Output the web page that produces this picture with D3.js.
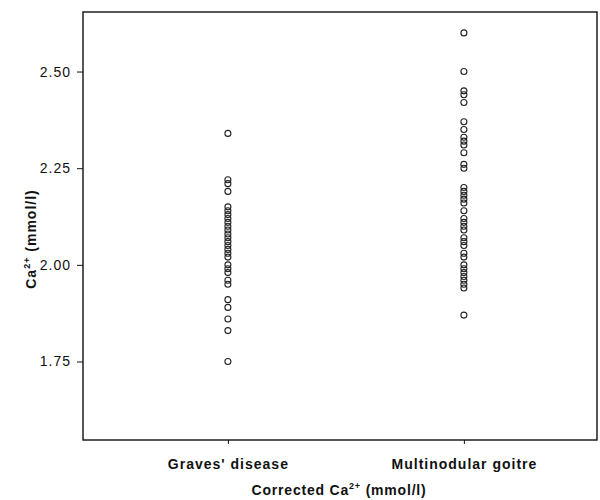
<!DOCTYPE html>
<html>
<head>
    <meta charset="UTF-8">
    <title>Ca2+ by diagnosis</title>
    <style>
        body { margin: 0; background: #fff; }
        svg text { font-family: "Liberation Sans", Arial, sans-serif; fill: #111; }
    </style>
</head>
<body>
    <div id="chart"></div>

    <script src="https://cdn.jsdelivr.net/npm/d3@7/dist/d3.min.js"></script>
    <script>
        const groups = ["Graves' disease", "Multinodular goitre"];
        const gravesValues = [2.34, 2.22, 2.21, 2.19, 2.15, 2.14, 2.13, 2.12, 2.11, 2.10,
            2.09, 2.08, 2.07, 2.06, 2.05, 2.04, 2.03, 2.02, 2.00, 1.99,
            1.98, 1.96, 1.95, 1.91, 1.89, 1.86, 1.83, 1.75];
        const goitreValues = [2.60, 2.50, 2.45, 2.44, 2.42, 2.37, 2.35, 2.33, 2.32, 2.31,
            2.29, 2.26, 2.25, 2.20, 2.19, 2.18, 2.17, 2.16, 2.14, 2.12,
            2.11, 2.10, 2.09, 2.07, 2.06, 2.05, 2.03, 2.02, 2.00, 1.99,
            1.98, 1.97, 1.96, 1.95, 1.94, 1.87];
        const yTicks = [1.75, 2.00, 2.25, 2.50];

        const points = [
            ...gravesValues.map(v => ({ group: 1, value: v })),
            ...goitreValues.map(v => ({ group: 2, value: v }))
        ];

        const margin = { top: 12, right: 3, bottom: 60, left: 83 };
        const W = 600, H = 500;
        const width = W - margin.left - margin.right;
        const height = H - margin.top - margin.bottom;

        const svg = d3.select("#chart").append("svg")
            .attr("width", W)
            .attr("height", H);

        const g = svg.append("g")
            .attr("transform", `translate(${margin.left},${margin.top})`);

        // group positions on a linear scale so the ends have uneven padding like the original
        const x = d3.scaleLinear().domain([0.386, 2.564]).range([0, width]);
        const y = d3.scaleLinear().domain([1.547, 2.654]).range([height, 0]);

        // frame
        g.append("rect")
            .attr("width", width)
            .attr("height", height)
            .attr("fill", "none")
            .attr("stroke", "#111")
            .attr("stroke-width", 1.4);

        // y axis
        const yAxis = g.append("g")
            .call(d3.axisLeft(y).tickValues(yTicks).tickFormat(d3.format(".2f")).tickSize(6).tickPadding(6));
        yAxis.select(".domain").remove();
        yAxis.selectAll("line").attr("stroke", "#111");
        yAxis.selectAll("text")
            .style("font-size", "14px")
            .style("letter-spacing", "1px");

        // x axis
        const xAxis = g.append("g")
            .attr("transform", `translate(0,${height})`)
            .call(d3.axisBottom(x).tickValues([1, 2]).tickFormat(d => groups[d - 1]).tickSize(4).tickPadding(15));
        xAxis.select(".domain").remove();
        xAxis.selectAll("line").attr("stroke", "#111");
        xAxis.selectAll("text")
            .style("font-size", "14px")
            .style("font-weight", "bold")
            .style("letter-spacing", "1px");

        // points
        g.selectAll("circle.pt")
            .data(points)
            .join("circle")
            .attr("class", "pt")
            .attr("cx", d => x(d.group))
            .attr("cy", d => y(d.value))
            .attr("r", 3)
            .attr("fill", "none")
            .attr("stroke", "#222")
            .attr("stroke-width", 1.1);

        // axis titles
        const xt = svg.append("text")
            .attr("x", 339)
            .attr("y", 495)
            .attr("text-anchor", "middle")
            .style("font-size", "14px")
            .style("font-weight", "bold")
            .style("letter-spacing", "0.8px");
        xt.append("tspan").text("Corrected Ca");
        xt.append("tspan").attr("dy", -6).style("font-size", "9px").text("2+");
        xt.append("tspan").attr("dy", 6).text(" (mmol/l)");

        const yt = svg.append("text")
            .attr("transform", "translate(36,239) rotate(-90)")
            .attr("text-anchor", "middle")
            .style("font-size", "14px")
            .style("font-weight", "bold")
            .style("letter-spacing", "1px");
        yt.append("tspan").text("Ca");
        yt.append("tspan").attr("dy", -6).style("font-size", "9px").text("2+");
        yt.append("tspan").attr("dy", 6).text(" (mmol/l)");
    </script>
</body>
</html>
